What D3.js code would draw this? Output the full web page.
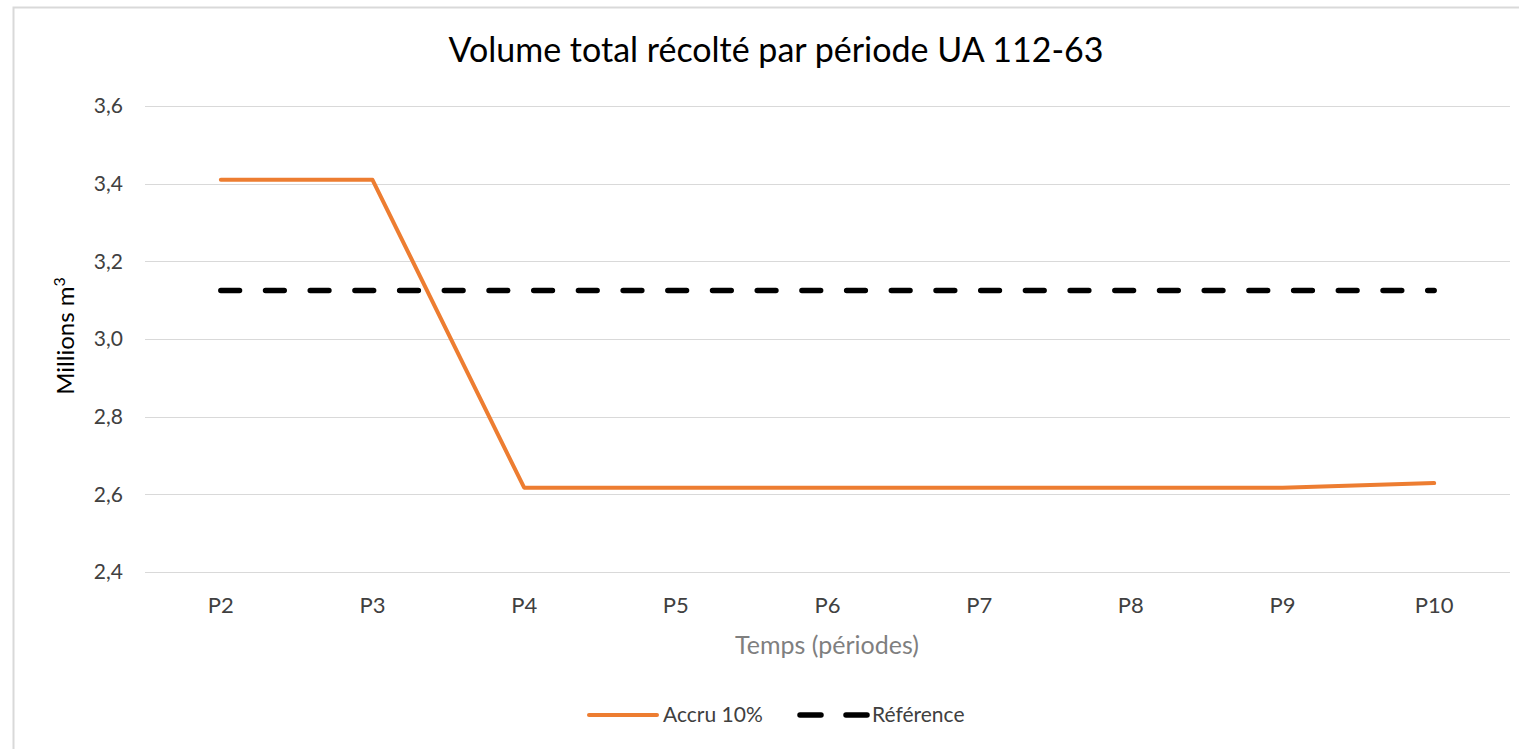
<!DOCTYPE html>
<html>
<head>
<meta charset="utf-8">
<script src="https://cdn.jsdelivr.net/npm/d3@7"></script>
<style>
	body { margin: 0; background: #fff; font-family: Lato, sans-serif; }
	svg { display: block; }
</style>
</head>
<body>
<svg></svg>
<script>
var periods = ['P2', 'P3', 'P4', 'P5', 'P6', 'P7', 'P8', 'P9', 'P10'];
var accru = [3.41, 3.41, 2.617, 2.617, 2.617, 2.617, 2.617, 2.617, 2.629];
var reference = [3.125, 3.125, 3.125, 3.125, 3.125, 3.125, 3.125, 3.125, 3.125];
var yTicks = [2.4, 2.6, 2.8, 3.0, 3.2, 3.4, 3.6];

var W = 1519, H = 749;
var margins = {T: 106, B: 177, L: 145, R: 9};

var svg = d3.select('svg').attr('width', W).attr('height', H);

// frame
svg.append('rect')
	.attr('x', 13.5).attr('y', 7.5)
	.attr('width', W).attr('height', H)
	.attr('fill', 'none').attr('stroke', '#d9d9d9').attr('stroke-width', 2);

var x = d3.scaleBand()
	.domain(periods)
	.range([margins.L, W - margins.R]);
var y = d3.scaleLinear()
	.domain([2.4, 3.6])
	.range([H - margins.B, margins.T]);

// grid
svg.append('g')
	.selectAll('line')
	.data(yTicks)
	.enter().append('line')
	.attr('x1', margins.L).attr('x2', W - margins.R)
	.attr('y1', function(d) { return Math.round(y(d)) + 0.5; })
	.attr('y2', function(d) { return Math.round(y(d)) + 0.5; })
	.attr('stroke', '#d9d9d9').attr('stroke-width', 1);

var yAxis = d3.axisLeft(y)
	.tickValues(yTicks)
	.tickSize(0)
	.tickPadding(22)
	.tickFormat(function(d) { return d3.format('.1f')(d).replace('.', ','); });

svg.append('g')
	.attr('transform', 'translate(' + margins.L + ',0)')
	.call(yAxis)
	.call(function(g) { g.select('.domain').remove(); })
	.selectAll('text')
	.style('font-family', 'Lato, sans-serif')
	.style('font-size', '21px')
	.attr('fill', '#404040');

var xAxis = d3.axisBottom(x).tickSize(0).tickPadding(25);
svg.append('g')
	.attr('transform', 'translate(0,' + (H - margins.B) + ')')
	.call(xAxis)
	.call(function(g) { g.select('.domain').remove(); })
	.selectAll('text')
	.style('font-family', 'Lato, sans-serif')
	.style('font-size', '22px')
	.attr('fill', '#404040');

function cx(d, i) { return x(periods[i]) + x.bandwidth() / 2; }

var line = d3.line()
	.x(function(d, i) { return cx(d, i); })
	.y(function(d) { return y(d); });

svg.append('path')
	.attr('d', line(reference))
	.attr('fill', 'none')
	.attr('stroke', '#000')
	.attr('stroke-width', 5.5)
	.attr('stroke-linecap', 'round')
	.attr('stroke-dasharray', '18.7 26');

svg.append('path')
	.attr('d', line(accru))
	.attr('fill', 'none')
	.attr('stroke', '#ed7d31')
	.attr('stroke-width', 4)
	.attr('stroke-linecap', 'round')
	.attr('stroke-linejoin', 'round');

// titles
svg.append('text')
	.attr('x', 776).attr('y', 62)
	.attr('text-anchor', 'middle')
	.style('font-size', '34px')
	.attr('fill', '#000')
	.text('Volume total récolté par période UA 112-63');

svg.append('text')
	.attr('x', 827).attr('y', 654)
	.attr('text-anchor', 'middle')
	.style('font-size', '25px')
	.attr('fill', '#7f7f7f')
	.text('Temps (périodes)');

var yt = svg.append('text')
	.attr('transform', 'translate(74,' + ((margins.T + H - margins.B) / 2 - 3) + ') rotate(-90)')
	.attr('text-anchor', 'middle')
	.style('font-size', '24px')
	.attr('fill', '#000');
yt.append('tspan').text('Millions m');
yt.append('tspan').attr('dy', -9).style('font-size', '16px').text('3');

// legend
var legend = svg.append('g').attr('transform', 'translate(0,715)');
legend.append('line')
	.attr('x1', 589).attr('x2', 657)
	.attr('stroke', '#ed7d31').attr('stroke-width', 4).attr('stroke-linecap', 'round');
legend.append('text')
	.attr('x', 663).attr('y', 7)
	.style('font-size', '21px').attr('fill', '#404040')
	.text('Accru 10%');
legend.append('line')
	.attr('x1', 800).attr('x2', 869)
	.attr('stroke', '#000').attr('stroke-width', 5.5).attr('stroke-linecap', 'round')
	.attr('stroke-dasharray', '21 25');
legend.append('text')
	.attr('x', 872).attr('y', 7)
	.style('font-size', '21px').attr('fill', '#404040')
	.text('Référence');
</script>
</body>
</html>
